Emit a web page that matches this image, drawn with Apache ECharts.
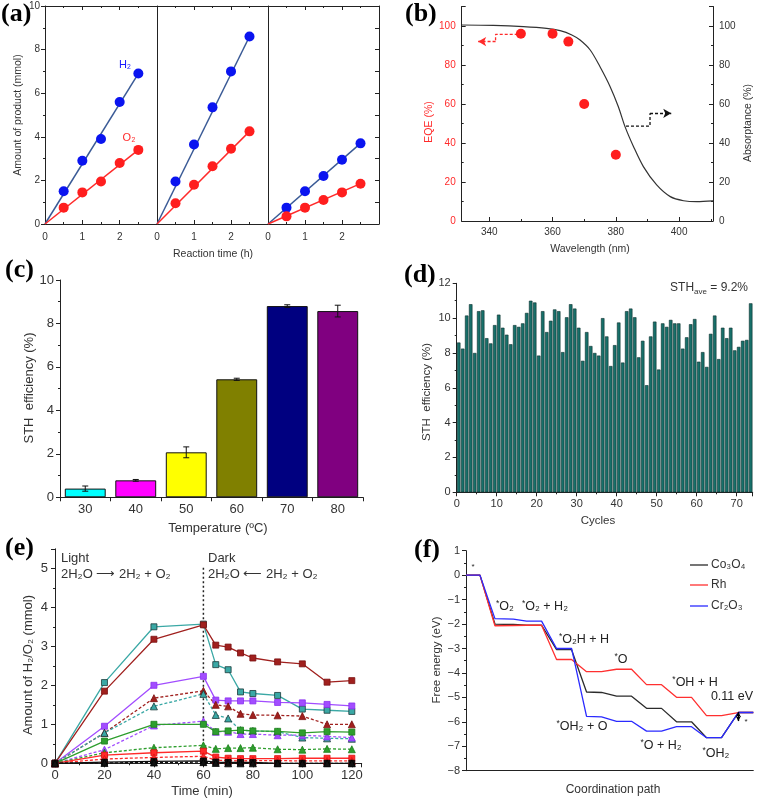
<!DOCTYPE html>
<html><head><meta charset="utf-8">
<script src="https://cdn.jsdelivr.net/npm/echarts@6/dist/echarts.min.js"></script>
<style>html,body{margin:0;padding:0;background:#fff}#c{width:761px;height:801px}</style>
</head><body><div id="c"></div>
<script>
// ================= DATA =================
// (a) product vs reaction time, three catalysts
const aTime = [0.5, 1, 1.5, 2, 2.5];
const a1H2 = [1.5, 2.9, 3.9, 5.6, 6.9];
const a1O2 = [0.75, 1.45, 1.95, 2.8, 3.4];
const a2H2 = [1.95, 3.65, 5.35, 7.0, 8.6];
const a2O2 = [0.95, 1.8, 2.65, 3.45, 4.25];
const a3H2 = [0.75, 1.5, 2.2, 2.95, 3.7];
const a3O2 = [0.35, 0.75, 1.1, 1.45, 1.85];
const aFitTime = [0, 2.5];
const a1H2Fit = [0, 6.9], a1O2Fit = [0, 3.4];
const a2H2Fit = [0, 8.6], a2O2Fit = [0, 4.25];
const a3H2Fit = [0, 3.7], a3O2Fit = [0, 1.85];

// (b) EQE and absorptance
const bWave = [350, 360, 365, 370, 380];
const bEQE = [96, 96, 92, 60, 34];
const absWave = [331.3, 341.3, 350.8, 358.1, 362.4, 366.1, 368.7, 371.9, 375.0, 378.2, 380.8, 382.9, 385.6, 388.7, 392.9, 397.2, 401.4, 405.6, 410.7];
const absVal  = [100.5, 100.3, 99.7, 98.8, 97.6, 95.4, 92.8, 87.7, 79.1, 68.9, 58.6, 48.4, 38.1, 27.9, 18.5, 12.5, 10.4, 9.9, 10.3];
const bRedArrowX = [349, 342, 342, 336.5], bRedArrowY = [95.7, 95.7, 92, 92];
const bBlkArrowX = [383.2, 390.8, 390.8, 397.5], bBlkArrowY = [48.7, 48.7, 55.2, 55.2];

// (c) STH vs temperature
const cTemp = ['30', '40', '50', '60', '70', '80'];
const cSTH = [0.4, 0.78, 2.07, 5.43, 8.8, 8.57];
const cErr = [0.12, 0.04, 0.25, 0.05, 0.06, 0.27];
const cColors = ['#00ffff', '#ff00ff', '#ffff00', '#808000', '#000080', '#800080'];

// (d) STH per cycle
const dSTH = [8.6, 8.25, 10.15, 10.8, 8.0, 10.4, 10.45, 8.85, 8.55, 9.6,
              10.2, 9.45, 9.05, 8.5, 9.6, 9.5, 9.7, 10.3, 11.0, 10.9,
              7.85, 10.4, 9.2, 9.85, 10.5, 10.4, 8.05, 10.05, 10.8, 10.55,
              9.45, 7.55, 9.2, 8.4, 8.0, 7.85, 10.0, 8.95, 7.25, 8.45,
              9.75, 7.45, 10.4, 10.55, 10.05, 7.75, 8.7, 6.15, 8.95, 9.8,
              7.05, 9.7, 9.5, 9.9, 9.7, 9.7, 8.25, 8.9, 9.65, 9.95,
              7.5, 8.05, 7.2, 9.1, 10.15, 7.65, 9.45, 8.85, 9.45, 8.15,
              8.35, 8.7, 8.75, 10.85];

// (e) H2/O2 amount vs time
const eTime = [0, 20, 40, 60, 65, 70, 75, 80, 90, 100, 110, 120];
const eTealSq   = [0, 2.07, 3.5, 3.57, 2.53, 2.4, 1.83, 1.79, 1.74, 1.39, 1.36, 1.33];
const eBrownSq  = [0, 1.85, 3.18, 3.55, 3.03, 2.98, 2.83, 2.7, 2.6, 2.55, 2.08, 2.12];
const ePurpleSq = [0, 0.95, 2.0, 2.23, 1.62, 1.6, 1.6, 1.6, 1.56, 1.55, 1.51, 1.47];
const eBrownTri = [0, 0.78, 1.67, 1.86, 1.5, 1.46, 1.27, 1.24, 1.23, 1.21, 1.0, 1.0];
const eTealTri  = [0, 0.78, 1.46, 1.78, 1.24, 1.15, 0.85, 0.83, 0.81, 0.66, 0.64, 0.63];
const ePurpleTri= [0, 0.35, 0.97, 1.08, 0.81, 0.81, 0.75, 0.75, 0.72, 0.72, 0.69, 0.66];
const eGreenSq  = [0, 0.57, 1.0, 1.0, 0.81, 0.83, 0.85, 0.83, 0.82, 0.78, 0.81, 0.8];
const eGreenTri = [0, 0.27, 0.4, 0.46, 0.37, 0.39, 0.39, 0.4, 0.36, 0.35, 0.37, 0.36];
const eRedSq    = [0, 0.21, 0.27, 0.31, 0.16, 0.13, 0.12, 0.12, 0.12, 0.13, 0.13, 0.13];
const eRedTri   = [0, 0.11, 0.15, 0.18, 0.08, 0.07, 0.06, 0.07, 0.07, 0.06, 0.06, 0.06];
const eBlackSq  = [0, 0.03, 0.05, 0.06, 0.03, 0.02, 0.02, 0.02, 0.0, 0.0, 0.0, 0.0];
const eBlackTri = [0, 0.01, 0.02, 0.03, 0.01, 0.0, 0.0, 0.0, 0.0, 0.0, 0.0, 0.0];
const eDividerX = [60, 60], eDividerY = [0, 5.05];

// (f) free energy diagram
const fPath = [0, 0.93, 1.93, 3.16, 4.04, 5.04, 6.04, 7.04, 8.04, 9.04, 10.04, 11.04, 12.04, 13.04, 14.04, 15.04, 16.04, 17.04, 18.16, 19.16];
const fCo = [0, 0, -2.0, -2.02, -2.05, -2.05, -3.05, -3.05, -4.78, -4.8, -4.95, -4.95, -5.45, -5.45, -6.0, -6.0, -6.65, -6.65, -5.62, -5.62];
const fRh = [0, 0, -2.07, -2.06, -2.05, -2.05, -3.45, -3.45, -3.95, -3.95, -3.85, -3.85, -4.48, -4.48, -5.0, -5.0, -5.75, -5.75, -5.62, -5.62];
const fCr = [0, 0, -1.78, -1.8, -1.88, -1.88, -3.0, -3.0, -5.78, -5.8, -5.98, -5.98, -6.38, -6.38, -6.2, -6.2, -6.65, -6.65, -5.62, -5.62];
const fGapX = [18.16, 18.16], fGapY = [-5.6, -5.97];

// ================= CHART =================
const FONT = '"Liberation Sans", Arial, Helvetica, sans-serif';
const SERIF = '"Liberation Serif", "Times New Roman", serif';
const INK = '#222';
const zip = (xs, ys) => xs.map((x, i) => [x, ys[i]]);

function vAxis(grid, o) {
  const ax = {
    type: 'value', gridIndex: grid, min: o.min, max: o.max,
    axisLine: {show: true, onZero: false, lineStyle: {color: INK, width: 1}},
    axisTick: {show: o.ticks !== false, inside: !!o.inside, length: 4, lineStyle: {color: INK}},
    minorTick: {show: !!o.minor, splitNumber: o.minor || 2, length: 2, lineStyle: {color: INK}},
    axisLabel: {show: o.labels !== false, fontSize: o.fs || 10, color: o.lc || '#333', fontFamily: FONT, margin: o.margin == null ? 5 : o.margin},
    splitLine: {show: false}, minorSplitLine: {show: false}
  };
  if (o.interval != null) ax.interval = o.interval;
  if (o.splitNumber != null) ax.splitNumber = o.splitNumber;
  if (o.fmt) ax.axisLabel.formatter = o.fmt;
  if (o.pos) ax.position = o.pos;
  if (o.showMinLabel === false) ax.axisLabel.showMinLabel = false;
  if (o.showMaxLabel === false) ax.axisLabel.showMaxLabel = false;
  return ax;
}

const grids = [
  {left: 45, top: 6, width: 112, height: 218},
  {left: 157, top: 6, width: 111, height: 218},
  {left: 268, top: 6, width: 111, height: 218},
  {left: 461.7, top: 6.5, width: 251.3, height: 214.5},
  {left: 60, top: 280, width: 303, height: 217.3},
  {left: 456.7, top: 283.3, width: 296, height: 209},
  {left: 55, top: 548.8, width: 306.7, height: 214.5},
  {left: 466, top: 550.7, width: 287.3, height: 220}
];

const aFmt = v => (v < 3 ? v : '');
const xAxes = [
  vAxis(0, {min: 0, max: 3, interval: 1, inside: true, minor: 2, fmt: aFmt, margin: 8}),
  vAxis(1, {min: 0, max: 3, interval: 1, inside: true, minor: 2, fmt: aFmt, margin: 8}),
  vAxis(2, {min: 0, max: 3, interval: 1, inside: true, minor: 2, fmt: aFmt, margin: 8}),
  vAxis(0, {min: 0, max: 3, interval: 1, inside: true, minor: 2, labels: false, pos: 'top'}),
  vAxis(1, {min: 0, max: 3, interval: 1, inside: true, minor: 2, labels: false, pos: 'top'}),
  vAxis(2, {min: 0, max: 3, interval: 1, inside: true, minor: 2, labels: false, pos: 'top'}),
  vAxis(3, {min: 331.3, max: 410.7, splitNumber: 4, inside: true, minor: 2, margin: 6, showMinLabel: false, showMaxLabel: false}),
  {type: 'category', gridIndex: 4, data: cTemp,
   axisLine: {show: true, onZero: false, lineStyle: {color: INK}},
   axisTick: {show: true, length: 4, lineStyle: {color: INK}},
   axisLabel: {fontSize: 13, color: '#333', fontFamily: FONT, margin: 6}},
  vAxis(5, {min: 0, max: 74, interval: 10, minor: 2, fs: 11, margin: 6, fmt: v => (v % 10 === 0 ? v : '')}),
  vAxis(6, {min: 0, max: 124, interval: 20, minor: 2, fs: 13, margin: 6, fmt: v => (v % 20 === 0 ? v : '')}),
  vAxis(7, {min: 0, max: 19.16, ticks: false, labels: false})
];

const yAxes = [
  vAxis(0, {min: 0, max: 10, interval: 2, minor: 2, margin: 5}),
  vAxis(1, {min: 0, max: 10, interval: 2, ticks: false, labels: false}),
  vAxis(2, {min: 0, max: 10, interval: 2, ticks: false, labels: false}),
  vAxis(2, {min: 0, max: 10, interval: 1, inside: true, labels: false, pos: 'right'}),
  vAxis(3, {min: 0, max: 110, interval: 20, inside: true, minor: 2, lc: '#ff2a2a', margin: 6, fmt: v => (v <= 100 ? v : '')}),
  vAxis(3, {min: 0, max: 110, interval: 20, inside: true, minor: 2, pos: 'right', margin: 6, fmt: v => (v <= 100 ? v : '')}),
  vAxis(4, {min: 0, max: 10, interval: 2, minor: 2, fs: 13, margin: 6}),
  vAxis(5, {min: 0, max: 12, interval: 2, minor: 2, fs: 11, margin: 6}),
  vAxis(6, {min: 0, max: 5.5, interval: 1, minor: 2, fs: 13, margin: 7, fmt: v => (v <= 5 ? v : '')}),
  vAxis(7, {min: -8, max: 1, interval: 1, minor: 2, fs: 11, margin: 6, fmt: v => (v < 0 ? '\u2212' + (-v) : String(v))})
];

const series = [];
// ---- (a)
const aPanels = [
  [a1H2, a1O2, a1H2Fit, a1O2Fit, 0, 0],
  [a2H2, a2O2, a2H2Fit, a2O2Fit, 1, 1],
  [a3H2, a3O2, a3H2Fit, a3O2Fit, 2, 2]
];
aPanels.forEach(([h, o, hf, of, xi, yi]) => {
  series.push({type: 'line', xAxisIndex: xi, yAxisIndex: yi, data: zip(aFitTime, hf), symbol: 'none', lineStyle: {color: '#3a5a96', width: 1.5}, z: 2, silent: true});
  series.push({type: 'line', xAxisIndex: xi, yAxisIndex: yi, data: zip(aFitTime, of), symbol: 'none', lineStyle: {color: '#ff2a2a', width: 1.5}, z: 2, silent: true});
  series.push({type: 'scatter', xAxisIndex: xi, yAxisIndex: yi, data: zip(aTime, h), symbolSize: 10, itemStyle: {color: '#0a14f0', opacity: 1}, z: 3});
  series.push({type: 'scatter', xAxisIndex: xi, yAxisIndex: yi, data: zip(aTime, o), symbolSize: 10, itemStyle: {color: '#ff1e1e', opacity: 1}, z: 3});
});
// ---- (b)
series.push({type: 'line', xAxisIndex: 6, yAxisIndex: 5, data: zip(absWave, absVal), smooth: 0.3, symbol: 'none', lineStyle: {color: '#333', width: 1.2}});
series.push({type: 'scatter', xAxisIndex: 6, yAxisIndex: 4, data: zip(bWave, bEQE), symbolSize: 10, itemStyle: {color: '#ff1e1e', opacity: 1}, z: 4});
function arrowSeries(xs, ys, color, yIdx) {
  const pts = zip(xs, ys);
  return {type: 'line', xAxisIndex: 6, yAxisIndex: yIdx, data: pts.slice(0, 3), symbol: 'none',
    lineStyle: {color, width: 1.3, type: [3, 2]}, silent: true,
    markLine: {silent: true, symbol: ['none', 'arrow'], symbolSize: [7, 8], label: {show: false},
      lineStyle: {color, width: 1.3, type: [3, 2]},
      data: [[{coord: pts[2]}, {coord: pts[3]}]]}};
}
series.push(arrowSeries(bRedArrowX, bRedArrowY, '#ff2a2a', 4));
series.push(arrowSeries(bBlkArrowX, bBlkArrowY, '#111', 5));
// ---- (c)
series.push({type: 'bar', xAxisIndex: 7, yAxisIndex: 6, barWidth: '81%',
  data: cSTH.map((v, i) => ({value: v, itemStyle: {color: cColors[i]}})),
  itemStyle: {borderColor: '#111', borderWidth: 1}});
series.push({type: 'custom', xAxisIndex: 7, yAxisIndex: 6, z: 10,
  data: cSTH.map((v, i) => [i, v - cErr[i], v + cErr[i]]),
  renderItem: (p, api) => {
    const lo = api.coord([api.value(0), api.value(1)]);
    const hi = api.coord([api.value(0), api.value(2)]);
    const w = 3, st = {stroke: '#111', lineWidth: 1};
    return {type: 'group', children: [
      {type: 'line', shape: {x1: lo[0], y1: lo[1], x2: hi[0], y2: hi[1]}, style: st},
      {type: 'line', shape: {x1: lo[0] - w, y1: lo[1], x2: lo[0] + w, y2: lo[1]}, style: st},
      {type: 'line', shape: {x1: hi[0] - w, y1: hi[1], x2: hi[0] + w, y2: hi[1]}, style: st}
    ]};
  }});
// ---- (d)
series.push({type: 'bar', xAxisIndex: 8, yAxisIndex: 7, barWidth: 3.5,
  data: dSTH.map((v, i) => [i + 0.5, v]),
  itemStyle: {color: '#17706a', borderColor: '#0c2e2c', borderWidth: 0.6}});
// ---- (e)
const eDefs = [
  [eTealSq, '#3aa8a5', 'rect', false, '#1c3a3a'],
  [eBrownSq, '#a0201e', 'rect', false, '#7a1010'],
  [ePurpleSq, '#a24dff', 'rect', false, '#8a30f0'],
  [eBrownTri, '#a0201e', 'triangle', true, '#7a1010'],
  [eTealTri, '#3aa8a5', 'triangle', true, '#1c3a3a'],
  [ePurpleTri, '#a24dff', 'triangle', true, '#8a30f0'],
  [eGreenSq, '#2e9e2e', 'rect', false, '#1b7f1b'],
  [eGreenTri, '#2e9e2e', 'triangle', true, '#1b7f1b'],
  [eRedSq, '#ff2a2a', 'rect', false, '#e01010'],
  [eRedTri, '#ff2a2a', 'triangle', true, '#e01010'],
  [eBlackSq, '#111', 'rect', false, '#000'],
  [eBlackTri, '#111', 'triangle', true, '#000']
];
eDefs.forEach(([d, c, sym, dashed, bc]) => {
  series.push({type: 'line', xAxisIndex: 9, yAxisIndex: 8, data: zip(eTime, d),
    symbol: sym, symbolSize: sym === 'rect' ? 6 : 7, showSymbol: true,
    lineStyle: {color: c, width: 1.3, type: dashed ? [3, 2] : 'solid'},
    itemStyle: {color: c, borderColor: bc, borderWidth: 0.8}});
});
series.push({type: 'line', xAxisIndex: 9, yAxisIndex: 8, data: zip(eDividerX, eDividerY), symbol: 'none',
  lineStyle: {color: '#222', width: 1.5, type: [2, 2.5]}, silent: true});
// ---- (f)
series.push({type: 'line', xAxisIndex: 10, yAxisIndex: 9, data: zip(fPath, fCo), symbol: 'none', lineStyle: {color: '#2b2b2b', width: 1.3}});
series.push({type: 'line', xAxisIndex: 10, yAxisIndex: 9, data: zip(fPath, fRh), symbol: 'none', lineStyle: {color: '#ff3030', width: 1.3},
  markLine: {silent: true, symbol: ['arrow', 'arrow'], symbolSize: [4, 5], label: {show: false},
    lineStyle: {color: '#000', width: 1.4, type: 'solid'}, data: [[{coord: [fGapX[0], fGapY[0]]}, {coord: [fGapX[1], fGapY[1]]}]]}});
series.push({type: 'line', xAxisIndex: 10, yAxisIndex: 9, data: zip(fPath, fCr), symbol: 'none', lineStyle: {color: '#2a2aff', width: 1.3}});

// ---- graphic texts
function txt(x, y, text, o = {}) {
  const style = {text, fill: o.color || '#333', fontSize: o.fs || 12, fontFamily: o.ff || FONT,
    fontWeight: o.weight || 'normal', align: o.align || 'center', verticalAlign: o.va || 'middle'};
  if (o.rich) style.rich = o.rich;
  if (o.lh) style.lineHeight = o.lh;
  return {type: 'text', x, y, rotation: o.rot || 0, z: 100, silent: true, style};
}
const R90 = Math.PI / 2;
const supRich = fs => ({s: {fontSize: fs - 4, fontFamily: FONT, verticalAlign: 'top', lineHeight: 10, fill: '#222'}});
const graphics = [
  // panel letters
  txt(1, 14, '(a)', {fs: 26, weight: 'bold', ff: SERIF, color: '#000', align: 'left'}),
  txt(405, 14, '(b)', {fs: 26, weight: 'bold', ff: SERIF, color: '#000', align: 'left'}),
  txt(5, 270, '(c)', {fs: 26, weight: 'bold', ff: SERIF, color: '#000', align: 'left'}),
  txt(404, 275, '(d)', {fs: 26, weight: 'bold', ff: SERIF, color: '#000', align: 'left'}),
  txt(5, 548, '(e)', {fs: 26, weight: 'bold', ff: SERIF, color: '#000', align: 'left'}),
  txt(414, 550, '(f)', {fs: 26, weight: 'bold', ff: SERIF, color: '#000', align: 'left'}),
  // (a)
  txt(18, 115, 'Amount of product (mmol)', {fs: 10.5, rot: R90}),
  txt(213, 254, 'Reaction time (h)', {fs: 10.5}),
  txt(125, 65, 'H\u2082', {fs: 11, color: '#1a1aff'}),
  txt(129, 138, 'O\u2082', {fs: 11, color: '#ff2a2a'}),
  // (b)
  txt(429, 122, 'EQE (%)', {fs: 10.5, rot: R90, color: '#ff2a2a'}),
  txt(748, 123, 'Absorptance (%)', {fs: 10.5, rot: R90}),
  txt(590, 249, 'Wavelength (nm)', {fs: 10.5}),
  // (c)
  txt(29, 388, 'STH  efficiency (%)', {fs: 13, rot: R90}),
  txt(218, 528, 'Temperature (\u00baC)', {fs: 13}),
  // (d)
  txt(427, 392, 'STH  efficiency (%)', {fs: 11.5, rot: R90}),
  txt(598, 521, 'Cycles', {fs: 11.5}),
  txt(748, 288, '{a|STH}{b|ave}{a| = 9.2%}', {fs: 12, align: 'right', lh: 16,
    rich: {a: {fontSize: 12, fontFamily: FONT, lineHeight: 16, fill: '#333'},
           b: {fontSize: 8, fontFamily: FONT, lineHeight: 9, verticalAlign: 'bottom', fill: '#333'}}}),
  // (e)
  txt(28, 665, 'Amount of H\u2082/O\u2082 (mmol)', {fs: 13, rot: R90}),
  txt(202, 791, 'Time (min)', {fs: 13}),
  txt(61, 558, 'Light', {fs: 13, align: 'left'}),
  txt(61, 574, '2H\u2082O \u27f6 2H\u2082 + O\u2082', {fs: 13, align: 'left'}),
  txt(208, 558, 'Dark', {fs: 13, align: 'left'}),
  txt(208, 574, '2H\u2082O \u27f5 2H\u2082 + O\u2082', {fs: 13, align: 'left'}),
  // (f)
  txt(437, 660, 'Free energy (eV)', {fs: 11.5, rot: R90}),
  txt(613, 790, 'Coordination path', {fs: 12}),
  txt(473, 567, '*', {fs: 8, color: '#222'}),
  txt(505, 607, '{s|*}O\u2082', {fs: 12.5, color: '#222', lh: 16, rich: supRich(12.5)}),
  txt(545, 607, '{s|*}O\u2082 + H\u2082', {fs: 12.5, color: '#222', lh: 16, rich: supRich(12.5)}),
  txt(584, 640, '{s|*}O\u2082H + H', {fs: 12.5, color: '#222', lh: 16, rich: supRich(12.5)}),
  txt(621, 660, '{s|*}O', {fs: 12.5, color: '#222', lh: 16, rich: supRich(12.5)}),
  txt(695, 683, '{s|*}OH + H', {fs: 12.5, color: '#222', lh: 16, rich: supRich(12.5)}),
  txt(732, 697, '0.11 eV', {fs: 12.5, color: '#222'}),
  txt(582, 727, '{s|*}OH\u2082 + O', {fs: 12.5, color: '#222', lh: 16, rich: supRich(12.5)}),
  txt(661, 746, '{s|*}O + H\u2082', {fs: 12.5, color: '#222', lh: 16, rich: supRich(12.5)}),
  txt(716, 754, '{s|*}OH\u2082', {fs: 12.5, color: '#222', lh: 16, rich: supRich(12.5)}),
  txt(746, 722, '*', {fs: 8, color: '#222'}),
  // (f) legend
  {type: 'line', shape: {x1: 690, y1: 565, x2: 708, y2: 565}, style: {stroke: '#2b2b2b', lineWidth: 1.3}, z: 100},
  {type: 'line', shape: {x1: 690, y1: 585, x2: 708, y2: 585}, style: {stroke: '#ff3030', lineWidth: 1.3}, z: 100},
  {type: 'line', shape: {x1: 690, y1: 606, x2: 708, y2: 606}, style: {stroke: '#2a2aff', lineWidth: 1.3}, z: 100},
  txt(711, 565, 'Co\u2083O\u2084', {fs: 12, align: 'left'}),
  txt(711, 585, 'Rh', {fs: 12, align: 'left'}),
  txt(711, 606, 'Cr\u2082O\u2083', {fs: 12, align: 'left'})
];

const chart = echarts.init(document.getElementById('c'), null, {renderer: 'canvas'});
chart.setOption({
  animation: false,
  backgroundColor: '#fff',
  textStyle: {fontFamily: FONT},
  grid: grids,
  xAxis: xAxes,
  yAxis: yAxes,
  series,
  graphic: graphics
});
</script></body></html>
